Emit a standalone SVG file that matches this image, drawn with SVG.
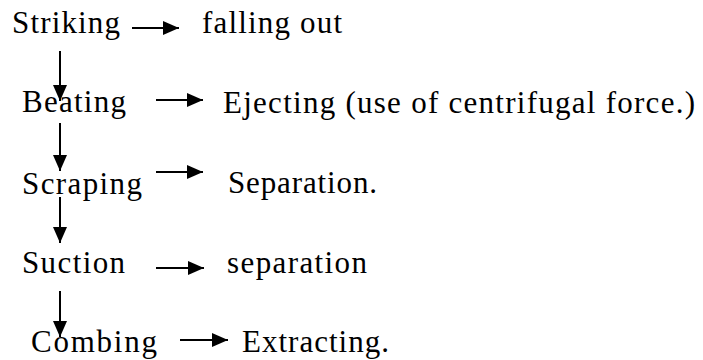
<svg xmlns="http://www.w3.org/2000/svg" width="703" height="360" viewBox="0 0 703 360">
<style>
.t{font-family:'Liberation Serif',Tinos,'Noto Serif','DejaVu Serif','Times New Roman',Times,serif;font-size:31px;fill:#000}
.c line{stroke:#000;stroke-width:2;marker-end:url(#ah)}
</style>
<defs>
<marker id="ah" markerUnits="userSpaceOnUse" markerWidth="16" markerHeight="14" refX="16" refY="7" orient="auto">
<path d="M0,0 L16,7 L0,14 z" fill="#000"/>
</marker>
</defs>
<rect width="703" height="360" fill="#fff"/>
<g id="striking"><text class="t" x="12" y="33" textLength="108">Striking</text></g>
<g id="falling-out"><text class="t" x="202" y="33" textLength="140">falling out</text></g>
<g id="beating"><text class="t" x="22" y="112" textLength="104">Beating</text></g>
<g id="ejecting"><text class="t" x="223" y="113" textLength="472">Ejecting (use of centrifugal force.)</text></g>
<g id="scraping"><text class="t" x="22" y="194" textLength="120">Scraping</text></g>
<g id="separation1"><text class="t" x="228" y="193" textLength="149">Separation.</text></g>
<g id="suction"><text class="t" x="22" y="273" textLength="103">Suction</text></g>
<g id="separation2"><text class="t" x="227" y="273" textLength="140">separation</text></g>
<g id="combing"><text class="t" x="31" y="352" textLength="126">Combing</text></g>
<g id="extracting"><text class="t" x="242" y="352" textLength="147">Extracting.</text></g>
<g id="connectors" class="c">
<line x1="132" y1="28" x2="179" y2="28"/>
<line x1="156" y1="100" x2="203" y2="100"/>
<line x1="156" y1="172" x2="203" y2="172"/>
<line x1="156" y1="268" x2="204" y2="268"/>
<line x1="180" y1="340" x2="228" y2="340"/>
<line x1="60" y1="51" x2="60" y2="101"/>
<line x1="60" y1="123" x2="60" y2="171"/>
<line x1="60" y1="197" x2="60" y2="243"/>
<line x1="60" y1="291" x2="60" y2="337"/>
</g>
</svg>
